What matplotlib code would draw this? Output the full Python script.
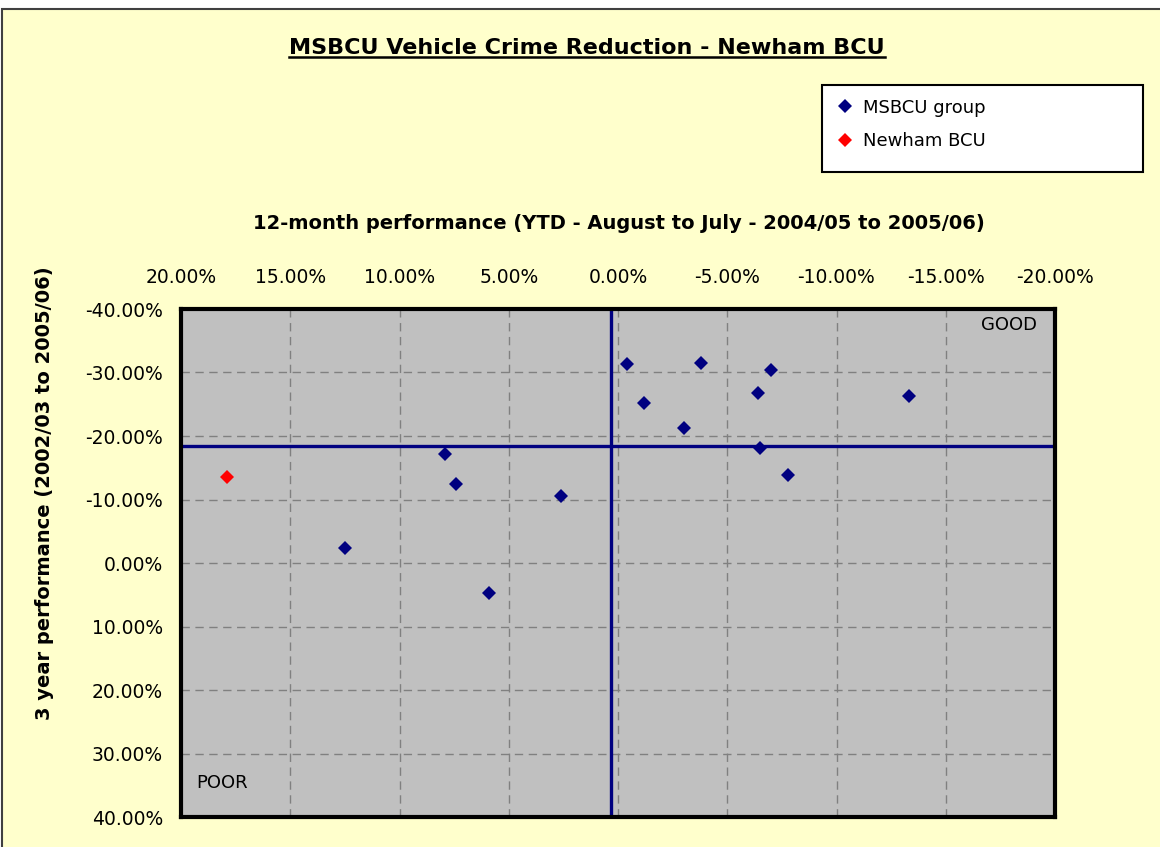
import matplotlib
matplotlib.use("Agg")
import matplotlib.pyplot as plt
from matplotlib.patches import Rectangle
from matplotlib.lines import Line2D
from matplotlib.ticker import MultipleLocator, FuncFormatter

# Performance 12 mois (x) et 3 ans (y), en %
groupe_x = [7.9, 7.4, 2.6, 12.5, 5.9, -0.4, -3.8, -7.0, -1.2, -6.4, -13.3, -3.0, -6.5, -7.8]
groupe_y = [-17.2, -12.5, -10.5, -2.4, 4.8, -31.4, -31.5, -30.4, -25.2, -26.8, -26.3, -21.2, -18.1, -13.9]
newham_x = [17.9]
newham_y = [-13.5]
# lignes de référence (moyennes du groupe)
ref_x = 0.3
ref_y = -18.4

W, H = 1160, 847
fig = plt.figure(figsize=(W / 100, H / 100), dpi=100, facecolor="white")

# fond jaune pâle du graphique
fig.patches.append(Rectangle((2 / W, -0.1), 1.2, 1 - 9 / H + 0.1, transform=fig.transFigure,
                             facecolor="#FFFFCC", edgecolor="#404040", linewidth=1.5, zorder=-10))

ax = fig.add_axes([181 / W, 1 - 817 / H, 874 / W, 508 / H])
ax.set_facecolor("#C0C0C0")
ax.set_xlim(20, -20)
ax.set_ylim(40, -40)

ax.xaxis.tick_top()
ax.xaxis.set_major_locator(MultipleLocator(5))
ax.yaxis.set_major_locator(MultipleLocator(10))
fmt = FuncFormatter(lambda v, p: f"{v + 0:.2f}%")
ax.xaxis.set_major_formatter(fmt)
ax.yaxis.set_major_formatter(fmt)
ax.tick_params(axis="x", length=0, pad=16, labelsize=13.5)
ax.tick_params(axis="y", length=0, pad=13, labelsize=13.5)

ax.grid(True, color="#808080", linestyle=(0, (6, 4)), linewidth=1)
ax.set_axisbelow(True)
for s in ax.spines.values():
    s.set_linewidth(3)
    s.set_color("black")

ax.axvline(ref_x, color="#000080", linewidth=2.4, zorder=2)
ax.axhline(ref_y, color="#000080", linewidth=2.4, zorder=2)

ax.plot(groupe_x, groupe_y, linestyle="none", marker="D", markersize=7.3, color="#000080",
        markeredgewidth=0, label="MSBCU group", zorder=3)
ax.plot(newham_x, newham_y, linestyle="none", marker="D", markersize=7.3, color="#FF0000",
        markeredgewidth=0, label="Newham BCU", zorder=3)

ax.set_xlabel("12-month performance (YTD - August to July - 2004/05 to 2005/06)",
              fontsize=14, fontweight="bold", va="center")
ax.xaxis.set_label_position("top")
ax.xaxis.set_label_coords(0.5 + 1 / 874, 1 + 80 / 508)
ax.set_ylabel("3 year performance (2002/03 to 2005/06)", fontsize=14, fontweight="bold", va="center")
ax.yaxis.set_label_coords(-136 / 874, 0.638)

ax.text(0.979, 0.9685, "GOOD", transform=ax.transAxes, ha="right", va="center", fontsize=13)
ax.text(0.017, 0.067, "POOR", transform=ax.transAxes, ha="left", va="center", fontsize=13)

# cadre de la légende
fig.patches.append(Rectangle((822 / W, 1 - 172 / H), 321 / W, 87 / H, transform=fig.transFigure,
                             facecolor="white", edgecolor="black", linewidth=1.5, zorder=1))
leg = fig.legend(loc="upper left", bbox_to_anchor=(822 / W, 1 - 85 / H),
                 fontsize=13, frameon=False, numpoints=1,
                 handlelength=1.0, handletextpad=0.5, borderpad=0.75, labelspacing=0.85,
                 borderaxespad=0)
leg.set_zorder(5)

titre = fig.text(587 / W, 1 - 48 / H, "MSBCU Vehicle Crime Reduction - Newham BCU",
                 ha="center", va="center", fontsize=16, fontweight="bold")

# soulignement du titre
fig.canvas.draw()
bb = titre.get_window_extent()
yl = (bb.y0 + 1) / H
fig.add_artist(Line2D([bb.x0 / W, bb.x1 / W], [yl, yl], color="black", linewidth=1.8))

fig.savefig("out.png", dpi=100, facecolor=fig.get_facecolor())
